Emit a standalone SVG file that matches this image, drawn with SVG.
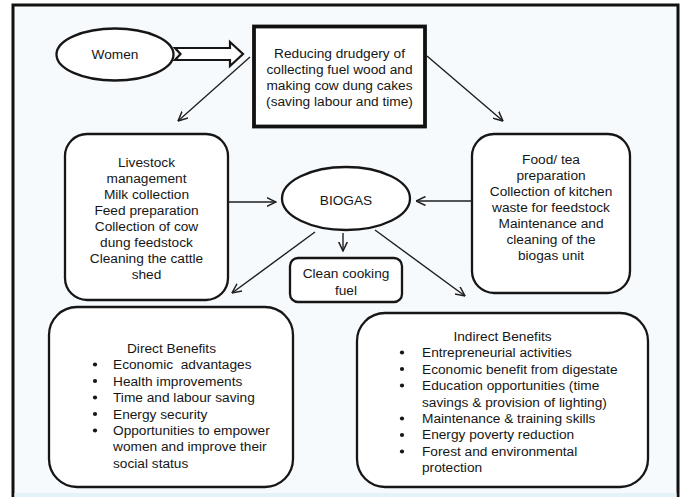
<svg xmlns="http://www.w3.org/2000/svg" width="685" height="497" viewBox="0 0 685 497">
  <defs>
    <style>
      text { font-family: "Liberation Sans", Arial, sans-serif; font-size: 13.7px; fill: #161616; }
      .c { text-anchor: middle; }
      .node { fill: #ffffff; stroke: #161616; stroke-width: 2.3; }
      .edge { fill: none; stroke: #1e1e1e; stroke-width: 1.4; marker-end: url(#open); }
      .dot { fill: #161616; }
    </style>
    <marker id="open" viewBox="0 0 10 10" refX="9.5" refY="5" markerWidth="10" markerHeight="10" markerUnits="userSpaceOnUse" orient="auto">
      <path d="M0,0.5 L9.5,5 L0,9.5" fill="none" stroke="#1e1e1e" stroke-width="1.5"/>
    </marker>
  </defs>

  <!-- page and frame -->
  <rect x="0" y="0" width="685" height="497" fill="#ffffff"/>
  <rect x="13" y="5" width="665" height="495" fill="#f6fafd" stroke="#111" stroke-width="3"/>
  <rect x="14.5" y="493" width="662" height="4" fill="#e4f3fa"/>

  <!-- women -->
  <g id="women">
    <ellipse class="node" cx="115" cy="54.5" rx="58.5" ry="26"/>
    <text class="c" x="115" y="59">Women</text>
  </g>

  <!-- hollow block arrow -->
  <g id="women-arrow">
    <path d="M175,48 L230,48 L230,42 L243,54 L230,66 L230,60 L175,60 L180.5,54 Z" fill="#ffffff" stroke="#161616" stroke-width="2.2" stroke-linejoin="miter"/>
  </g>

  <!-- drudgery box -->
  <g id="drudgery">
    <rect x="254" y="26.5" width="171" height="100" fill="#ffffff" stroke="#111" stroke-width="3.8"/>
    <text class="c" x="339.5" y="58">Reducing drudgery of</text>
    <text class="c" x="339.5" y="74">collecting fuel wood and</text>
    <text class="c" x="339.5" y="90">making cow dung cakes</text>
    <text class="c" x="339.5" y="106">(saving labour and time)</text>
  </g>

  <!-- livestock tasks -->
  <g id="livestock">
    <rect class="node" x="65" y="134" width="163" height="166" rx="22" ry="22"/>
    <text class="c" x="146.5" y="166.5">Livestock</text>
    <text class="c" x="146.5" y="182.5">management</text>
    <text class="c" x="146.5" y="198.5">Milk collection</text>
    <text class="c" x="146.5" y="214.5">Feed preparation</text>
    <text class="c" x="146.5" y="230.5">Collection of cow</text>
    <text class="c" x="146.5" y="246.5">dung feedstock</text>
    <text class="c" x="146.5" y="262.5">Cleaning the cattle</text>
    <text class="c" x="146.5" y="278.5">shed</text>
  </g>

  <!-- kitchen tasks -->
  <g id="kitchen">
    <rect class="node" x="472" y="134" width="158" height="159" rx="22" ry="22"/>
    <text class="c" x="551" y="164">Food/ tea</text>
    <text class="c" x="551" y="180">preparation</text>
    <text class="c" x="551" y="196">Collection of kitchen</text>
    <text class="c" x="551" y="212">waste for feedstock</text>
    <text class="c" x="551" y="227.5">Maintenance and</text>
    <text class="c" x="551" y="243.5">cleaning of the</text>
    <text class="c" x="551" y="259.5">biogas unit</text>
  </g>

  <!-- biogas -->
  <g id="biogas">
    <ellipse class="node" cx="346" cy="198.5" rx="64" ry="31.5"/>
    <text class="c" x="346" y="205">BIOGAS</text>
  </g>

  <!-- clean cooking fuel -->
  <g id="fuel">
    <rect class="node" x="290" y="258" width="112" height="44" rx="8" ry="8"/>
    <text class="c" x="346" y="278">Clean cooking</text>
    <text class="c" x="346" y="295">fuel</text>
  </g>

  <!-- direct benefits -->
  <g id="direct">
    <rect class="node" x="49" y="307" width="244" height="180" rx="28" ry="28"/>
    <text class="c" x="171.5" y="353">Direct Benefits</text>
    <circle class="dot" cx="95" cy="364.5" r="2.1"/>
    <circle class="dot" cx="95" cy="381" r="2.1"/>
    <circle class="dot" cx="95" cy="397.5" r="2.1"/>
    <circle class="dot" cx="95" cy="414" r="2.1"/>
    <circle class="dot" cx="95" cy="430.5" r="2.1"/>
    <text x="113" y="369.4" xml:space="preserve">Economic  advantages</text>
    <text x="113" y="385.8">Health improvements</text>
    <text x="113" y="402.2">Time and labour saving</text>
    <text x="113" y="418.6">Energy security</text>
    <text x="113" y="435">Opportunities to empower</text>
    <text x="113" y="451.4">women and improve their</text>
    <text x="113" y="467.8">social status</text>
  </g>

  <!-- indirect benefits -->
  <g id="indirect">
    <rect class="node" x="357" y="313" width="291" height="174" rx="28" ry="28"/>
    <text class="c" x="502.5" y="341">Indirect Benefits</text>
    <circle class="dot" cx="402" cy="352.5" r="2.1"/>
    <circle class="dot" cx="402" cy="369" r="2.1"/>
    <circle class="dot" cx="402" cy="385.5" r="2.1"/>
    <circle class="dot" cx="402" cy="418.5" r="2.1"/>
    <circle class="dot" cx="402" cy="435" r="2.1"/>
    <circle class="dot" cx="402" cy="451.5" r="2.1"/>
    <text x="422" y="357.4">Entrepreneurial activities</text>
    <text x="422" y="373.8">Economic benefit from digestate</text>
    <text x="422" y="390.2">Education opportunities (time</text>
    <text x="422" y="406.6">savings &amp; provision of lighting)</text>
    <text x="422" y="423">Maintenance &amp; training skills</text>
    <text x="422" y="439.4">Energy poverty reduction</text>
    <text x="422" y="455.8">Forest and environmental</text>
    <text x="422" y="472.2">protection</text>
  </g>

  <!-- connectors -->
  <g id="connectors">
    <line class="edge" x1="250" y1="57" x2="178" y2="121"/>
    <line class="edge" x1="427" y1="56" x2="503" y2="121"/>
    <line class="edge" x1="228" y1="202" x2="276" y2="202"/>
    <line class="edge" x1="472" y1="201" x2="416" y2="201"/>
    <line class="edge" x1="343" y1="233" x2="343" y2="251"/>
    <line class="edge" x1="315" y1="232" x2="232" y2="293"/>
    <line class="edge" x1="375" y1="230" x2="465" y2="296"/>
  </g>
</svg>
